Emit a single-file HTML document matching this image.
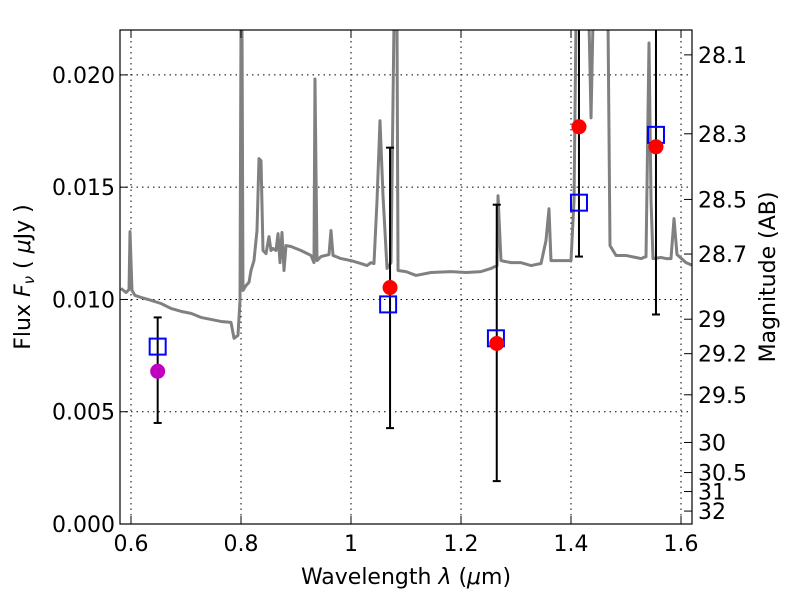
<!DOCTYPE html>
<html><head><meta charset="utf-8"><style>
body{margin:0;background:#fff;width:800px;height:600px;overflow:hidden}
svg text{font-family:"DejaVu Sans","Liberation Sans",sans-serif;font-size:22px;fill:#000}
</style></head><body>
<svg id="chart" width="800" height="600" viewBox="0 0 800 600" xmlns="http://www.w3.org/2000/svg">
<g id="grid"></g>
<g id="plot"></g>
<g id="axes"></g>
<text x="406" y="584" text-anchor="middle">Wavelength  <tspan font-style="italic">λ</tspan> (<tspan font-style="italic">μ</tspan>m)</text>
<text transform="translate(30,277) rotate(-90)" text-anchor="middle">Flux  <tspan font-style="italic">F</tspan><tspan font-style="italic" font-size="15" dy="4">ν</tspan><tspan dy="-4">  ( </tspan><tspan font-style="italic">μ</tspan>Jy )</text>
<text transform="translate(775,277) rotate(-90)" text-anchor="middle">Magnitude (AB)</text>
</svg>
<script>
const xTicks=[0.6,0.8,1.0,1.2,1.4,1.6];
const xTickLabels=["0.6","0.8","1","1.2","1.4","1.6"];
const yTicks=[0,0.005,0.01,0.015,0.02];
const yTickLabels=["0.000","0.005","0.010","0.015","0.020"];
const magTicks=[28.1,28.3,28.5,28.7,29,29.2,29.5,30,30.5,31,32];
const magLabels=["28.1","28.3","28.5","28.7","29","29.2","29.5","30","30.5","31","32"];
const specPx=[[120,288],[125,292],[128,289],[129,231],[131,290],[134,295],[140,297],[150,300],[160,303],[170,308],[180,311],[190,313],[200,317],[210,319],[220,321],[230,322],[233,338],[237,335],[239,300],[240,20],[241,20],[242,290],[245,285],[248,282],[250,270],[253,260],[256,230],[258,158],[260,160],[262,250],[265,253],[268,236],[270,250],[272,248],[275,250],[277,233],[279,262],[281,232],[283,270],[285,245],[290,246],[300,250],[310,255],[313,262],[314,78],[316,260],[320,256],[328,254],[330,230],[332,255],[340,258],[350,260],[360,263],[366,265],[370,262],[373,263],[376,200],[379,120],[382,195],[386,268],[390,262],[393,20],[396,20],[397,270],[405,271],[415,275],[430,272],[450,271],[465,272],[480,271],[490,268],[496,265],[497,195],[500,260],[510,262],[520,262],[530,265],[540,263],[545,240],[548,208],[550,260],[560,260],[570,260],[573,200],[575,20],[588,20],[590,117],[592,20],[607,20],[609,245],[615,255],[625,255],[640,258],[645,256],[648,42],[650,200],[652,258],[660,257],[665,258],[670,258],[673,218],[676,254],[685,262],[692,265]];
const specWave=specPx.map(p=>+(0.6+(p[0]-130)/550).toFixed(4));
const specFlux=specPx.map(p=>+((524-p[1])/22500).toFixed(5));
const photWave=[1.071,1.265,1.4145,1.5545];
const photFlux=[0.01053,0.00804,0.01769,0.0168];
const photLo=[0.00427,0.00191,0.01191,0.00933];
const photHi=[0.01676,0.01422,0.025,0.025];
const modelWave=[0.6485,1.0675,1.2635,1.4145,1.5545];
const modelFlux=[0.0079,0.00978,0.00827,0.01431,0.01733];
const optWave=[0.6485],optFlux=[0.0068],optLo=[0.0045],optHi=[0.0092];

const L=120,R=692,T=30,B=524,xmin=0.58,xmax=1.62,ymax=0.022;
const X=w=>L+(w-xmin)/(xmax-xmin)*(R-L);
const Y=f=>B-f/ymax*(B-T);
const NS="http://www.w3.org/2000/svg";
function mk(tag,parent,attrs){const e=document.createElementNS(NS,tag);for(const k in attrs)e.setAttribute(k,attrs[k]);parent.appendChild(e);return e;}
const grid=document.getElementById('grid'),plot=document.getElementById('plot'),axes=document.getElementById('axes');
xTicks.forEach((t,i)=>{
 const x=X(t);
 const g=mk('line',grid,{x1:x,x2:x,y1:T,y2:B,stroke:'#000','stroke-dasharray':'1.5,4','stroke-width':1});
 
 mk('line',axes,{x1:x,x2:x,y1:B,y2:B-8,stroke:'#000'});
 mk('line',axes,{x1:x,x2:x,y1:T,y2:T+8,stroke:'#000'});
 const tx=mk('text',axes,{x:x,y:B+27,'text-anchor':'middle'});tx.textContent=xTickLabels[i];
 
});
yTicks.forEach((t,i)=>{
 const y=Y(t);
 const g=mk('line',grid,{x1:L,x2:R,y1:y,y2:y,stroke:'#000','stroke-dasharray':'1.5,4','stroke-width':1});
 
 mk('line',axes,{x1:L,x2:L+8,y1:y,y2:y,stroke:'#000'});
 const tx=mk('text',axes,{x:L-5,y:y+8,'text-anchor':'end'});tx.textContent=yTickLabels[i];
 
});
magTicks.forEach((m,i)=>{
 const y=Y(Math.pow(10,(23.9-m)/2.5));
 mk('line',axes,{x1:R,x2:R-8,y1:y,y2:y,stroke:'#000'});
 const tx=mk('text',axes,{x:R+6,y:y+8,'text-anchor':'start'});tx.textContent=magLabels[i];
 
});
mk('defs',plot,{}).innerHTML='<clipPath id="cp"><rect x="'+L+'" y="'+T+'" width="'+(R-L)+'" height="'+(B-T)+'"/></clipPath>';
const cg=mk('g',plot,{'clip-path':'url(#cp)'});
const sp=mk('polyline',cg,{points:specWave.map((w,i)=>X(w)+','+Y(specFlux[i])).join(' '),fill:'none',stroke:'#808080','stroke-width':3,'stroke-linejoin':'round'});

function errbars(ws,lo,hi){ws.forEach((w,i)=>{const x=X(w);
 const e=mk('line',cg,{x1:x,x2:x,y1:Y(hi[i]),y2:Y(lo[i]),stroke:'#000','stroke-width':2});
 
 [lo[i],hi[i]].forEach(v=>mk('line',cg,{x1:x-4,x2:x+4,y1:Y(v),y2:Y(v),stroke:'#000','stroke-width':2}));});}
errbars(optWave,optLo,optHi);errbars(photWave,photLo,photHi);
modelWave.forEach((w,i)=>{const s=mk('rect',cg,{x:X(w)-8,y:Y(modelFlux[i])-8,width:16,height:16,fill:'none',stroke:'#0000ff','stroke-width':2});
 });
optWave.forEach((w,i)=>{const c=mk('circle',cg,{cx:X(w),cy:Y(optFlux[i]),r:7.5,fill:'#bf00bf'});
 });
photWave.forEach((w,i)=>{const c=mk('circle',cg,{cx:X(w),cy:Y(photFlux[i]),r:7.5,fill:'#ff0000'});
 });
const fr=mk('rect',axes,{x:L,y:T,width:R-L,height:B-T,fill:'none',stroke:'#000','stroke-width':1.2});

</script>
</body></html>
